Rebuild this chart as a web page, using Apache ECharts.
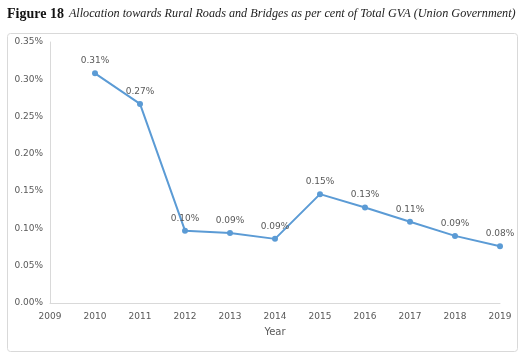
<!DOCTYPE html>
<html>
<head>
<meta charset="utf-8">
<script src="https://cdn.jsdelivr.net/npm/echarts@6/dist/echarts.min.js"></script>
<style>
html,body{margin:0;padding:0;background:#fff;}
#c{width:522px;height:363px;}
</style>
</head>
<body>
<div id="c"></div>
<script>
var years = [2010, 2011, 2012, 2013, 2014, 2015, 2016, 2017, 2018, 2019];
var values = [0.308, 0.267, 0.097, 0.094, 0.086, 0.146, 0.128, 0.109, 0.090, 0.076];
var xTicks = [2009, 2010, 2011, 2012, 2013, 2014, 2015, 2016, 2017, 2018, 2019];
var yTicks = [0, 0.05, 0.10, 0.15, 0.20, 0.25, 0.30, 0.35];

var chart = echarts.init(document.getElementById('c'), null, {renderer: 'canvas'});
var lbl = '#595959';
chart.setOption({
  animation: false,
  title: {
    left: 7, top: 5, padding: 0,
    text: '{b|Figure 18} {i|Allocation towards Rural Roads and Bridges as per cent of Total GVA (Union Government)}',
    textStyle: {
      rich: {
        b: {fontFamily: 'Liberation Serif', fontWeight: 'bold', fontSize: 14, color: '#111'},
        i: {fontFamily: 'Liberation Serif', fontStyle: 'italic', fontWeight: 'normal', fontSize: 12.2, color: '#222'}
      }
    }
  },
  graphic: [{
    type: 'rect', left: 5, top: 31, silent: true,
    shape: {width: 510, height: 318, r: 3},
    style: {fill: 'none', stroke: '#d9d9d9', lineWidth: 1}
  }],
  grid: {left: 50, right: 22, top: 42, bottom: 60},
  xAxis: {
    type: 'value', min: xTicks[0], max: xTicks[xTicks.length - 1], interval: 1,
    name: 'Year', nameLocation: 'middle', nameGap: 24,
    nameTextStyle: {fontFamily: 'DejaVu Sans', fontSize: 10, color: lbl},
    axisLine: {show: true, lineStyle: {color: '#d9d9d9', width: 1}},
    axisTick: {show: false},
    splitLine: {show: false},
    axisLabel: {fontFamily: 'DejaVu Sans', fontSize: 9, color: lbl, margin: 9, formatter: function(v){return String(v);}}
  },
  yAxis: {
    type: 'value', min: yTicks[0], max: yTicks[yTicks.length - 1], interval: 0.05,
    axisLine: {show: true, lineStyle: {color: '#d9d9d9', width: 1}},
    axisTick: {show: false},
    splitLine: {show: false},
    axisLabel: {fontFamily: 'DejaVu Sans', fontSize: 9, color: lbl, margin: 7, formatter: function(v){return v.toFixed(2) + '%';}}
  },
  series: [{
    type: 'line',
    data: years.map(function(y, i){ return [y, values[i]]; }),
    symbol: 'circle', symbolSize: 6,
    lineStyle: {color: '#5b9bd5', width: 2},
    itemStyle: {color: '#5b9bd5'},
    label: {
      show: true, position: 'top', distance: 5,
      fontFamily: 'DejaVu Sans', fontSize: 9, color: lbl,
      formatter: function(p){ return p.value[1].toFixed(2) + '%'; }
    }
  }]
});
</script>
</body>
</html>
